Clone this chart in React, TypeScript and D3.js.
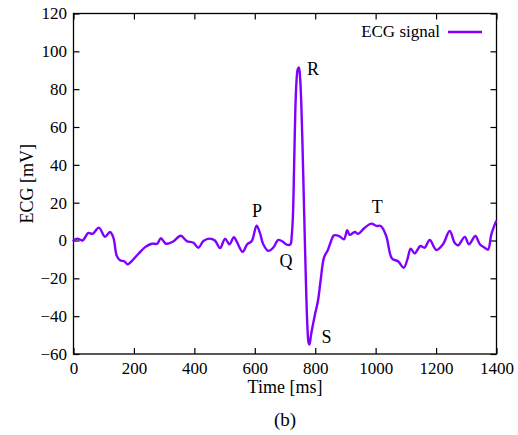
import React, { useEffect, useRef } from 'react';
import * as d3 from 'd3';

const timeMs = [0, 13, 30, 49, 63, 84, 104, 121, 132, 143, 154, 168, 179, 192, 215, 237, 259, 277, 289, 306, 330, 355, 375, 397, 413, 430, 450, 468, 485, 502, 516, 531, 540, 560, 575, 590, 606, 617, 628, 645, 661, 678, 694, 706, 718, 722, 726, 730, 734, 738, 742, 746, 750, 754, 758, 762, 766, 770, 774, 778, 781, 786, 793, 800, 809, 818, 829, 842, 852, 862, 881, 895, 906, 914, 931, 942, 962, 986, 1002, 1017, 1035, 1054, 1074, 1093, 1105, 1116, 1129, 1148, 1162, 1179, 1201, 1223, 1245, 1262, 1273, 1295, 1309, 1330, 1345, 1361, 1372, 1383, 1398];
const ecgMv = [0, 1, 0, 4, 3.5, 6.8, 2, 4.5, 1.5, -8, -10.5, -11, -12.6, -11, -7, -3.5, -1.7, -1.7, 1.2, -1.7, -0.5, 2.5, -0.3, -1.2, -3.8, -0.3, 1, 0, -4, 1, -2, 1.8, -0.5, -6, -2, -0.3, 7.8, 4, -2, -5.5, -3.8, 0.3, -0.8, -2.2, -2, 2, 12, 38, 68, 84, 90.5, 91.5, 86, 72, 50, 24, -2, -26, -45, -54, -55, -50, -44, -38.5, -32, -21, -9, -5, -0.5, 2.7, 2.2, 0.6, 5.4, 3, 4.5, 3.5, 6.5, 8.9, 7.7, 7.7, 2.4, -9.5, -11, -14.4, -10, -4.3, -6.8, -2.9, -3.8, 0.3, -5, -2, 5, -1.3, -2.5, 1.9, -2, 2.4, -2, -3.8, -4.8, 3.3, 10];

const xTicks = [0, 200, 400, 600, 800, 1000, 1200, 1400];
const yTicks = [-60, -40, -20, 0, 20, 40, 60, 80, 100, 120];

// wave labels: [text, time, value]
const waveLabels: [string, number, number][] = [
    ['P', 607, 12.5],
    ['Q', 703, -14],
    ['R', 793, 87.3],
    ['S', 837, -54.3],
    ['T', 1005, 14.6],
];

const App = () => {
    const ref = useRef<SVGSVGElement>(null);

    useEffect(() => {
        const width = 518;
        const height = 435;
        const margin = { top: 13.5, right: 21.5, bottom: 81, left: 73.5 };
        const font = '"Liberation Serif", "Times New Roman", serif';
        const purple = '#8000ff';

        const x = d3.scaleLinear()
            .domain([0, 1400])
            .range([margin.left, width - margin.right]);

        const y = d3.scaleLinear()
            .domain([-60, 120])
            .range([height - margin.bottom, margin.top]);

        const svg = d3.select(ref.current)
            .attr('width', width)
            .attr('height', height);
        svg.selectAll('*').remove();

        const styleAxis = (g) => {
            g.attr('font-family', font).attr('font-size', 17);
            g.select('.domain').remove();
            g.selectAll('.tick line').attr('stroke', '#000').attr('stroke-width', 1.2);
            g.selectAll('text').attr('font-family', font).attr('font-size', 17).attr('fill', '#000');
        };

        svg.append('g')
            .attr('transform', `translate(0,${y(-60)})`)
            .call(d3.axisBottom(x).tickValues(xTicks).tickFormat(d3.format('d')).tickSizeInner(-6).tickSizeOuter(0).tickPadding(8))
            .call(styleAxis);

        svg.append('g')
            .attr('transform', `translate(0,${y(120)})`)
            .call(d3.axisTop(x).tickValues(xTicks).tickSizeInner(-6).tickSizeOuter(0).tickFormat(() => ''))
            .call(styleAxis);

        svg.append('g')
            .attr('transform', `translate(${x(0)},0)`)
            .call(d3.axisLeft(y).tickValues(yTicks).tickFormat(d3.format('d')).tickSizeInner(-6).tickSizeOuter(0).tickPadding(6.5))
            .call(styleAxis);

        svg.append('g')
            .attr('transform', `translate(${x(1400)},0)`)
            .call(d3.axisRight(y).tickValues(yTicks).tickSizeInner(-6).tickSizeOuter(0).tickFormat(() => ''))
            .call(styleAxis);

        svg.append('rect')
            .attr('x', x(0))
            .attr('y', y(120))
            .attr('width', x(1400) - x(0))
            .attr('height', y(-60) - y(120))
            .attr('fill', 'none')
            .attr('stroke', '#000')
            .attr('stroke-width', 1.3);

        const line = d3.line<number>()
            .x((d, i) => x(timeMs[i]))
            .y(d => y(d))
            .curve(d3.curveCatmullRom.alpha(0.5));

        svg.append('path')
            .datum(ecgMv)
            .attr('d', line)
            .attr('fill', 'none')
            .attr('stroke', purple)
            .attr('stroke-width', 2.4)
            .attr('stroke-linejoin', 'round')
            .attr('stroke-linecap', 'round');

        svg.selectAll('.wave')
            .data(waveLabels)
            .join('text')
            .attr('class', 'wave')
            .attr('x', d => x(d[1]))
            .attr('y', d => y(d[2]))
            .attr('text-anchor', 'middle')
            .attr('font-family', font)
            .attr('font-size', 18)
            .text(d => d[0]);

        // legend
        svg.append('text')
            .attr('x', 440)
            .attr('y', 37)
            .attr('text-anchor', 'end')
            .attr('font-family', font)
            .attr('font-size', 17)
            .text('ECG signal');
        svg.append('line')
            .attr('x1', 448).attr('x2', 482)
            .attr('y1', 32).attr('y2', 32)
            .attr('stroke', purple)
            .attr('stroke-width', 2.4);

        // axis titles
        svg.append('text')
            .attr('x', (x(0) + x(1400)) / 2)
            .attr('y', 393)
            .attr('text-anchor', 'middle')
            .attr('font-family', font)
            .attr('font-size', 18)
            .text('Time [ms]');

        svg.append('text')
            .attr('transform', `translate(33,${y(30)}) rotate(-90)`)
            .attr('text-anchor', 'middle')
            .attr('font-family', font)
            .attr('font-size', 18)
            .text('ECG [mV]');

        svg.append('text')
            .attr('x', (x(0) + x(1400)) / 2)
            .attr('y', 426)
            .attr('text-anchor', 'middle')
            .attr('font-family', font)
            .attr('font-size', 19)
            .text('(b)');
    }, []);

    return (
        <svg ref={ref} style={{ position: 'absolute', left: 0, top: 0, background: '#fff' }} />
    );
};

export default App;
